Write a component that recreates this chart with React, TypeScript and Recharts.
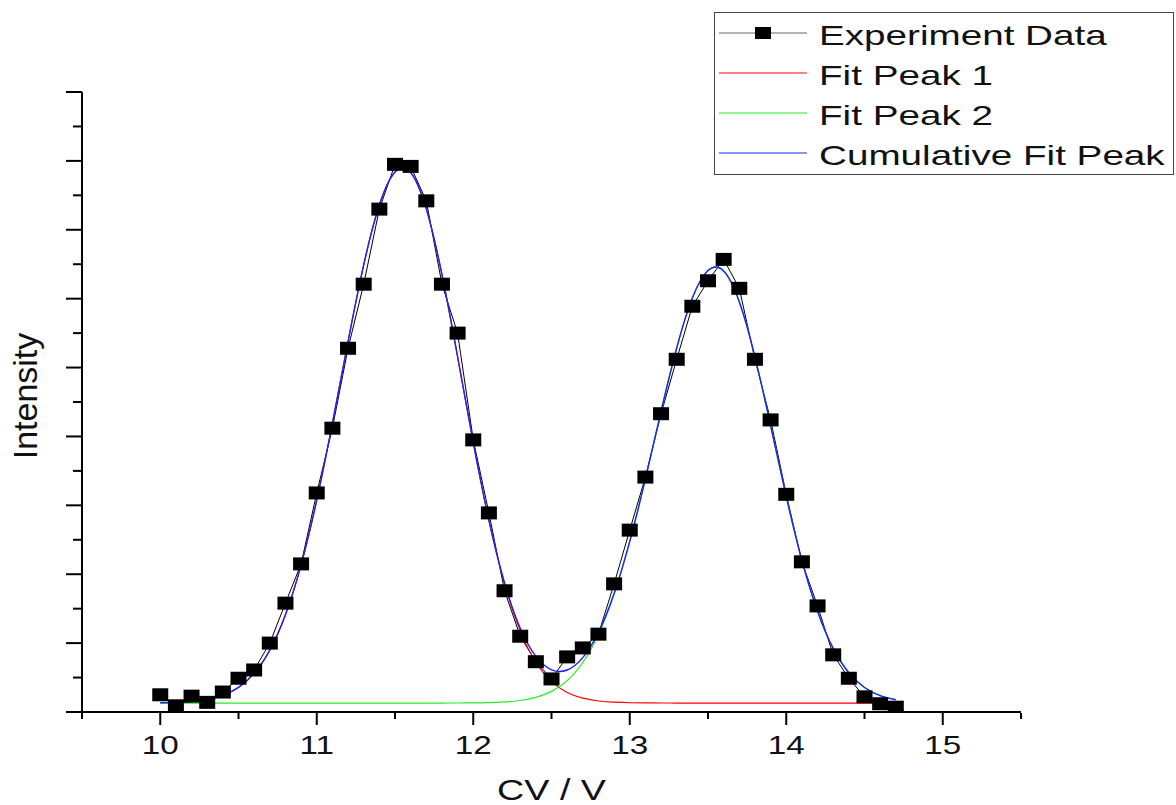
import React from 'react';
import { ComposedChart, Line, XAxis, YAxis, Legend, Label } from 'recharts';

const cvValues = [
  10.0, 10.1, 10.2, 10.3, 10.4, 10.5, 10.6, 10.7, 10.8, 10.9,
  11.0, 11.1, 11.2, 11.3, 11.4, 11.5, 11.6, 11.7, 11.8, 11.9,
  12.0, 12.1, 12.2, 12.3, 12.4, 12.5, 12.6, 12.7, 12.8, 12.9,
  13.0, 13.1, 13.2, 13.3, 13.4, 13.5, 13.6, 13.7, 13.8, 13.9,
  14.0, 14.1, 14.2, 14.3, 14.4, 14.5, 14.6, 14.7,
];

const experimentData = [
  0.25, 0.09, 0.23, 0.14, 0.29, 0.49, 0.61, 1.0, 1.58, 2.15,
  3.18, 4.12, 5.28, 6.21, 7.3, 7.95, 7.92, 7.42, 6.21, 5.5,
  3.95, 2.89, 1.76, 1.1, 0.73, 0.48, 0.8, 0.93, 1.13, 1.86,
  2.64, 3.41, 4.33, 5.12, 5.89, 6.26, 6.57, 6.15, 5.12, 4.24,
  3.16, 2.18, 1.54, 0.83, 0.49, 0.22, 0.12, 0.07,
];

const fitPeak1 = [
  0.134, 0.139, 0.153, 0.182, 0.242, 0.357, 0.561, 0.897, 1.411, 2.136,
  3.077, 4.191, 5.377, 6.49, 7.359, 7.838, 7.831, 7.303, 6.351, 5.156,
  3.912, 2.78, 1.86, 1.181, 0.725, 0.444, 0.284, 0.201, 0.16, 0.142,
  0.134, 0.132, 0.131, 0.13, 0.13, 0.13, 0.13, 0.13, 0.13, 0.13,
  0.13, 0.13, 0.13, 0.13, 0.13, 0.13, 0.13, 0.13,
];

const fitPeak2 = [
  0.13, 0.13, 0.13, 0.13, 0.13, 0.13, 0.13, 0.13, 0.13, 0.13,
  0.13, 0.13, 0.13, 0.13, 0.13, 0.13, 0.13, 0.13, 0.13, 0.131,
  0.132, 0.136, 0.146, 0.167, 0.212, 0.299, 0.456, 0.719, 1.126, 1.709,
  2.472, 3.383, 4.362, 5.284, 6.009, 6.408, 6.402, 5.955, 5.155, 4.157,
  3.127, 2.202, 1.46, 0.923, 0.57, 0.356, 0.238, 0.178,
];

const cumulativeFit = [
  0.134, 0.139, 0.153, 0.182, 0.242, 0.357, 0.561, 0.897, 1.411, 2.136,
  3.077, 4.191, 5.377, 6.49, 7.359, 7.838, 7.831, 7.303, 6.351, 5.157,
  3.914, 2.786, 1.876, 1.218, 0.807, 0.613, 0.61, 0.79, 1.156, 1.721,
  2.476, 3.385, 4.363, 5.284, 6.009, 6.408, 6.402, 5.955, 5.155, 4.157,
  3.127, 2.202, 1.46, 0.923, 0.57, 0.356, 0.238, 0.178,
];

const seriesNames = ['Experiment Data', 'Fit Peak 1', 'Fit Peak 2', 'Cumulative Fit Peak'];
const xMajorTicks = [10, 11, 12, 13, 14, 15];
const xMinorTicks = [9.5, 10.5, 11.5, 12.5, 13.5, 14.5, 15.5];
const yMajorTicks = [0, 1, 2, 3, 4, 5, 6, 7, 8, 9];
const yMinorTicks = [0.5, 1.5, 2.5, 3.5, 4.5, 5.5, 6.5, 7.5, 8.5];

const rows = cvValues.map((cv, i) => ({
  cv,
  exp: experimentData[i],
  p1: fitPeak1[i],
  p2: fitPeak2[i],
  cum: cumulativeFit[i],
}));

const FONT = '"Liberation Sans", Arial, Helvetica, sans-serif';

const SquareDot = (props: any) => {
  const { cx, cy, index } = props;
  if (cx == null || cy == null) return <g key={`d${index}`} />;
  return <rect key={`d${index}`} x={cx - 8} y={cy - 6.5} width={16} height={13} fill="#000" />;
};

const XTick = (props: any) => {
  const { x, y, payload } = props;
  return (
    <g transform={`translate(${x},${y})`}>
      <text transform="scale(1.33,1)" textAnchor="middle" dy="0.71em" fontSize={25} fontFamily={FONT} fill="#111">
        {payload.value}
      </text>
    </g>
  );
};

const XTitle = (props: any) => {
  const vb = props.viewBox || { x: 0, y: 0, width: 0, height: 0 };
  const cx = vb.x + vb.width / 2;
  const by = vb.y + 88;
  return (
    <g transform={`translate(${cx},${by})`}>
      <text transform="scale(1.3,1)" textAnchor="middle" fontSize={29} fontFamily={FONT} fill="#111">
        CV / V
      </text>
    </g>
  );
};

const YTitle = (props: any) => {
  const vb = props.viewBox || { x: 0, y: 0, width: 0, height: 0 };
  const bx = vb.x + vb.width - 45;
  const cy = vb.y + vb.height / 2 - 6;
  return (
    <text transform={`translate(${bx},${cy}) rotate(-90)`} textAnchor="middle" fontSize={34} fontFamily={FONT} fill="#111">
      Intensity
    </text>
  );
};

const LegendBox = (props: any) => {
  const payload = [...(props.payload || [])].sort(
    (a: any, b: any) => seriesNames.indexOf(a.value) - seriesNames.indexOf(b.value)
  );
  return (
    <svg width={460} height={163} style={{ display: 'block' }}>
      <rect x={0.5} y={0.5} width={459} height={162} fill="#fff" stroke="#444" strokeWidth={1} />
      {payload.map((entry: any, i: number) => {
        const ly = 21 + i * 40;
        const isExp = entry.value === seriesNames[0];
        return (
          <g key={`lg${i}`}>
            <line x1={5} x2={93} y1={ly} y2={ly} stroke={isExp ? '#666' : entry.color} strokeWidth={1} />
            {isExp && <rect x={41} y={ly - 6} width={16} height={12} fill="#000" />}
            <g transform={`translate(105,${ly + 11.5})`}>
              <text transform="scale(1.38,1)" fontSize={28} fontFamily={FONT} fill="#111">
                {entry.value}
              </text>
            </g>
          </g>
        );
      })}
    </svg>
  );
};

export default function App() {
  return (
    <div style={{ position: 'absolute', left: 0, top: 0, width: 1176, height: 805, background: '#fff' }}>
      <ComposedChart
        width={1176}
        height={805}
        data={rows}
        margin={{ top: 92, right: 155, bottom: 91, left: 80 }}
      >
        <XAxis
          xAxisId="major"
          dataKey="cv"
          type="number"
          domain={[9.5, 15.5]}
          ticks={xMajorTicks}
          interval={0}
          allowDataOverflow
          height={1}
          tickSize={13}
          tickMargin={11}
          axisLine={{ stroke: '#000', strokeWidth: 2 }}
          tickLine={{ stroke: '#000', strokeWidth: 2 }}
          tick={XTick}
        >
          <Label content={XTitle} />
        </XAxis>
        <XAxis
          xAxisId="minor"
          dataKey="cv"
          type="number"
          domain={[9.5, 15.5]}
          ticks={xMinorTicks}
          interval={0}
          allowDataOverflow
          height={1}
          tickSize={6}
          axisLine={false}
          tickLine={{ stroke: '#000', strokeWidth: 2 }}
          tickFormatter={() => ''}
        />
        <YAxis
          yAxisId="major"
          type="number"
          domain={[0, 9]}
          ticks={yMajorTicks}
          interval={0}
          allowDataOverflow
          width={1}
          tickSize={16}
          axisLine={{ stroke: '#000', strokeWidth: 2 }}
          tickLine={{ stroke: '#000', strokeWidth: 2 }}
          tickFormatter={() => ''}
        >
          <Label content={YTitle} />
        </YAxis>
        <YAxis
          yAxisId="minor"
          type="number"
          domain={[0, 9]}
          ticks={yMinorTicks}
          interval={0}
          allowDataOverflow
          width={1}
          tickSize={8}
          axisLine={false}
          tickLine={{ stroke: '#000', strokeWidth: 2 }}
          tickFormatter={() => ''}
        />
        <Legend
          layout="horizontal"
          verticalAlign="middle"
          align="center"
          wrapperStyle={{ left: 714, top: 12, width: 460, height: 163 }}
          content={LegendBox}
        />
        <Line
          xAxisId="major"
          yAxisId="major"
          name={seriesNames[0]}
          dataKey="exp"
          type="linear"
          stroke="#000"
          strokeWidth={1}
          dot={SquareDot}
          activeDot={false}
          isAnimationActive={false}
        />
        <Line
          xAxisId="major"
          yAxisId="major"
          name={seriesNames[1]}
          dataKey="p1"
          type="natural"
          stroke="#ff0000"
          strokeWidth={1.2}
          dot={false}
          activeDot={false}
          isAnimationActive={false}
        />
        <Line
          xAxisId="major"
          yAxisId="major"
          name={seriesNames[2]}
          dataKey="p2"
          type="natural"
          stroke="#22ee22"
          strokeWidth={1.2}
          dot={false}
          activeDot={false}
          isAnimationActive={false}
        />
        <Line
          xAxisId="major"
          yAxisId="major"
          name={seriesNames[3]}
          dataKey="cum"
          type="natural"
          stroke="#2020ff"
          strokeWidth={1.4}
          dot={false}
          activeDot={false}
          isAnimationActive={false}
        />
      </ComposedChart>
    </div>
  );
}
